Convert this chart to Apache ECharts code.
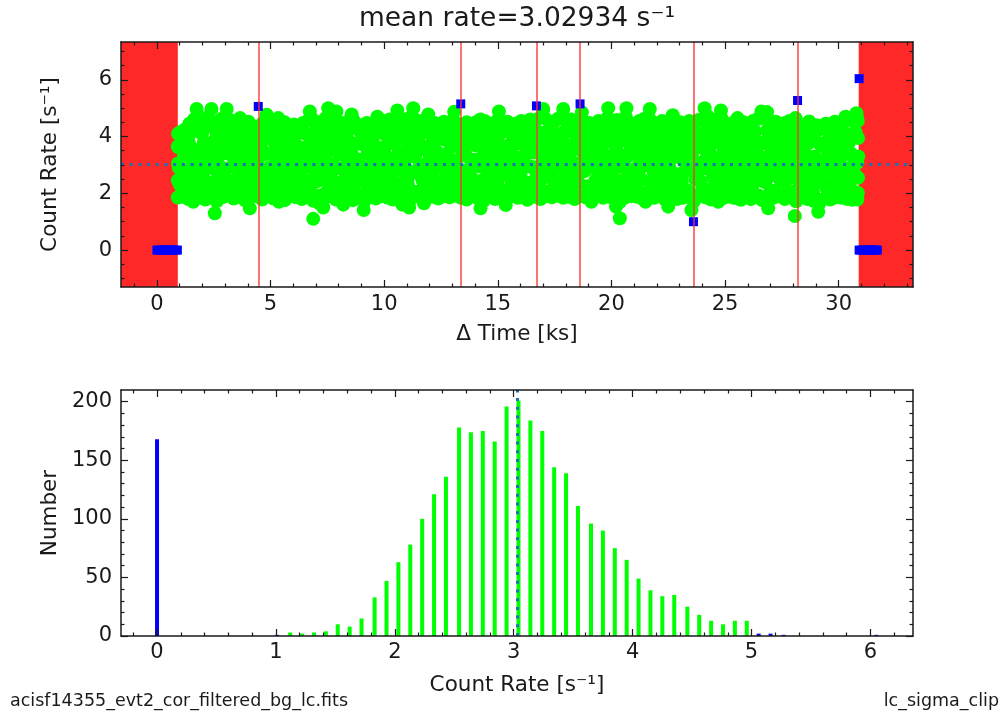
<!DOCTYPE html>
<html>
<head>
<meta charset="utf-8">
<script src="https://cdn.jsdelivr.net/npm/echarts@6/dist/echarts.min.js"></script>
<style>
html,body{margin:0;padding:0;background:#fff;}
#chart{width:1004px;height:715px;}
</style>
</head>
<body>
<div id="chart"></div>
<script>
// ---------------- data ----------------
const meanRate = 3.02934;
const titleText = 'mean rate=3.02934 s\u207B\u00B9';
const fileName = 'acisf14355_evt2_cor_filtered_bg_lc.fits';
const toolName = 'lc_sigma_clip';

// light curve: kept bins [time ks, rate s^-1] (envelope and outliers)
const lcGood = [
[0.92,1.85],[0.92,2.45],[0.93,3.05],[0.92,3.65],[0.93,4.10],
[0.95,3.62],[1.01,2.31],[1.07,4.05],[1.13,2.84],[1.19,1.92],[1.25,3.35],[1.31,2.58],[1.38,3.88],
[1.44,2.12],[1.50,4.32],[1.56,3.04],[1.60,1.70],[1.66,2.71],[1.72,3.52],[1.75,4.97],[1.81,2.42],[1.88,3.21],
[1.94,4.12],[2.00,2.63],[2.06,3.78],[2.12,2.05],[2.18,3.14],[2.24,4.41],[2.30,2.36],[2.36,3.47],[2.40,4.97],[2.45,2.88],[2.50,1.86],[2.55,1.30],[2.61,3.96],[2.67,2.52],[2.73,3.30],[2.79,2.17],[2.85,4.21],[2.91,3.63],
[2.97,2.76],[3.03,3.99],[3.07,4.97],[3.12,2.24],[3.18,3.41],[3.24,1.97],[3.30,2.95],[3.36,4.28],[3.42,2.47],[3.48,3.72],[3.54,2.08],[3.60,3.18],[3.66,4.65],[3.71,2.69],[3.77,3.85],[3.83,2.33],[3.89,3.55],[3.95,4.46],
[4.01,2.90],[4.09,1.47],[4.13,3.27],[4.19,4.09],[4.25,2.58],[4.31,3.66],[4.37,2.15],[4.43,3.02],[4.51,3.95],[4.55,4.33],[4.61,2.41],[4.67,3.49],[4.73,1.88],[4.79,2.83],[4.83,4.77],[4.89,3.93],[4.95,2.27],
[5.01,3.38],[5.07,4.18],[5.13,2.62],[5.19,3.76],[5.25,2.04],[5.30,3.11],[5.34,4.65],[5.37,1.70],[5.43,2.97],[5.49,3.58],[5.55,2.39],[5.61,4.02],[5.67,2.73],[5.73,3.44],[5.79,1.95],[5.85,4.37],[5.91,3.07],[5.97,2.50],
[6.03,3.83],[6.09,2.20],[6.15,3.25],[6.21,4.24],[6.27,2.66],[6.33,3.61],[6.39,2.01],[6.45,2.92],[6.51,4.11],[6.57,2.45],[6.63,3.53],[6.69,3.00],[6.73,4.88],[6.79,2.30],[6.84,3.90],[6.88,1.10],[6.94,2.80],[6.99,3.40],
[7.05,4.28],[7.11,2.55],[7.17,3.70],[7.23,1.93],[7.29,3.15],[7.32,1.50],[7.38,4.05],[7.44,2.70],[7.50,3.47],[7.54,5.00],[7.60,2.12],[7.66,3.02],[7.72,4.38],[7.78,2.43],[7.84,3.80],[7.90,4.88],[7.95,2.88],
[8.01,3.58],[8.07,2.26],[8.13,4.15],[8.20,1.60],[8.25,3.33],[8.31,2.61],[8.37,3.95],[8.43,2.08],[8.49,2.98],[8.57,4.78],[8.61,3.64],[8.67,2.37],[8.73,4.30],[8.79,2.79],[8.85,3.19],[8.91,1.90],[8.97,3.74],
[9.03,2.52],[9.10,1.41],[9.15,4.02],[9.21,2.91],[9.27,3.43],[9.33,2.18],[9.39,3.87],[9.45,2.64],[9.51,4.25],[9.57,3.09],[9.63,2.00],[9.70,4.70],[9.75,3.52],[9.81,2.44],[9.87,3.28],[9.93,4.12],[9.99,2.74],
[10.05,3.66],[10.11,2.10],[10.17,3.01],[10.23,4.40],[10.29,2.56],[10.35,3.79],[10.41,1.96],[10.47,3.22],[10.53,2.85],[10.58,4.92],[10.64,3.48],[10.70,2.29],[10.76,4.07],[10.80,1.60],[10.86,3.14],[10.92,2.67],[10.98,3.92],
[11.04,2.34],[11.10,1.50],[11.16,3.56],[11.22,4.20],[11.28,5.00],[11.33,2.72],[11.39,3.37],[11.45,2.05],[11.51,3.84],[11.57,2.96],[11.63,4.31],[11.69,2.48],[11.75,1.65],[11.81,3.60],[11.87,3.06],[11.94,4.78],[11.99,2.22],
[12.05,3.71],[12.11,2.60],[12.17,4.14],[12.23,2.93],[12.29,1.91],[12.35,3.45],[12.41,2.38],[12.47,4.01],[12.53,3.12],[12.59,2.14],[12.65,3.89],[12.71,2.77],[12.77,4.44],[12.83,3.27],[12.89,2.47],[12.95,3.63],
[13.01,2.02],[13.08,4.87],[13.12,3.05],[13.18,2.66],[13.24,3.94],[13.30,2.29],[13.44,3.50],[13.50,4.23],[13.56,2.55],[13.62,3.31],[13.68,1.94],[13.74,3.77],[13.80,2.84],[13.86,4.06],[13.92,2.41],[13.98,3.18],
[14.04,3.68],[14.10,2.19],[14.16,4.35],[14.24,1.47],[14.28,2.99],[14.34,3.58],[14.40,2.50],[14.46,4.10],[14.52,3.23],[14.58,2.07],[14.64,3.82],[14.70,2.70],[14.76,3.40],[14.82,4.27],[14.88,2.35],[14.94,3.03],
[15.00,3.91],[15.05,4.88],[15.11,2.61],[15.17,3.49],[15.23,2.11],[15.29,3.15],[15.35,1.59],[15.41,4.18],[15.47,2.82],[15.53,3.71],[15.59,2.27],[15.65,3.36],[15.71,4.43],[15.77,2.53],[15.83,3.08],[15.89,1.98],[15.95,3.86],
[16.01,2.74],[16.07,4.04],[16.13,3.26],[16.19,2.40],[16.25,3.61],[16.30,1.77],[16.36,2.95],[16.42,4.22],[16.48,2.16],[16.54,3.44],[16.60,2.86],[16.77,3.75],[16.83,2.32],[16.89,4.13],[16.95,3.10],
[17.00,4.97],[17.06,2.58],[17.12,3.55],[17.18,2.03],[17.24,3.20],[17.30,4.34],[17.36,2.69],[17.42,3.83],[17.48,2.43],[17.54,3.00],[17.60,4.08],[17.66,2.21],[17.72,3.39],[17.78,2.89],[17.84,3.97],[17.88,4.97],[17.94,2.51],
[18.00,3.64],[18.06,2.12],[18.12,3.28],[18.18,4.19],[18.24,2.63],[18.30,3.52],[18.36,1.93],[18.42,3.06],[18.48,4.03],[18.54,2.37],[18.70,4.85],[18.76,3.45],[18.82,2.78],[18.88,3.92],[18.94,2.25],
[19.00,3.13],[19.06,4.29],[19.12,1.70],[19.18,2.97],[19.24,3.70],[19.30,2.46],[19.36,3.34],[19.42,4.11],[19.48,2.09],[19.54,3.58],[19.60,2.83],[19.66,3.98],[19.72,2.54],[19.78,3.22],[19.86,5.00],[19.90,2.31],[19.96,3.81],
[20.02,2.68],[20.08,4.16],[20.14,3.04],[20.20,1.53],[20.26,3.47],[20.32,2.40],[20.37,1.12],[20.43,3.86],[20.49,2.92],[20.55,4.36],[20.61,2.18],[20.66,5.00],[20.72,3.30],[20.78,2.59],[20.84,3.66],[20.90,2.05],[20.96,4.00],
[21.02,2.81],[21.08,3.54],[21.14,2.28],[21.20,4.24],[21.26,3.11],[21.32,2.50],[21.38,3.76],[21.44,2.98],[21.50,1.70],[21.56,4.09],[21.62,3.37],[21.69,4.97],[21.74,2.36],[21.80,3.63],[21.86,2.72],[21.92,4.31],[21.98,1.99],
[22.04,3.19],[22.10,2.62],[22.16,3.88],[22.22,2.14],[22.28,3.42],[22.34,4.14],[22.40,2.85],[22.46,3.05],[22.50,1.53],[22.56,3.69],[22.62,2.44],[22.70,4.75],[22.74,3.27],[22.80,2.01],[22.86,3.95],[22.92,2.67],[22.98,3.51],
[23.04,4.21],[23.10,2.30],[23.16,3.16],[23.22,2.77],[23.28,3.83],[23.34,2.10],[23.40,3.39],[23.46,4.40],[23.52,1.41],[23.70,2.94],[23.76,3.60],[23.82,2.49],[23.88,4.05],[23.94,3.08],
[24.00,2.24],[24.06,3.73],[24.10,5.00],[24.16,2.88],[24.22,3.46],[24.28,1.96],[24.34,4.18],[24.40,3.00],[24.46,2.57],[24.52,3.80],[24.58,2.34],[24.64,4.28],[24.70,1.70],[24.76,3.24],[24.82,4.92],[24.88,2.69],[24.94,3.57],
[25.00,2.13],[25.06,3.91],[25.12,2.80],[25.18,3.35],[25.24,4.10],[25.30,2.42],[25.36,3.65],[25.42,2.06],[25.48,3.13],[25.55,4.65],[25.60,2.60],[25.66,3.50],[25.70,1.77],[25.76,3.99],[25.82,2.91],[25.88,4.34],[25.94,2.27],
[26.00,3.43],[26.06,2.73],[26.12,3.85],[26.18,2.18],[26.24,3.07],[26.30,4.20],[26.36,2.52],[26.42,3.62],[26.48,1.92],[26.54,3.29],[26.60,4.88],[26.66,2.86],[26.72,3.78],[26.78,2.39],[26.85,4.86],[26.90,1.47],[26.96,3.17],
[27.02,4.02],[27.08,2.63],[27.14,3.53],[27.20,2.09],[27.26,3.95],[27.32,2.96],[27.38,4.27],[27.44,2.46],[27.50,3.36],[27.56,2.77],[27.62,3.71],[27.68,2.02],[27.74,3.12],[27.80,4.15],[27.86,2.55],[27.92,3.87],[27.98,2.89],
[28.04,3.44],[28.07,1.20],[28.10,4.65],[28.14,2.62],[28.24,3.15],[28.30,2.34],[28.36,3.59],[28.42,2.71],[28.48,4.12],[28.54,3.02],[28.60,2.16],[28.66,3.76],[28.70,4.53],[28.76,2.48],[28.82,3.27],[28.88,1.98],[28.94,3.90],
[29.00,2.61],[29.06,4.22],[29.10,1.35],[29.16,3.10],[29.22,2.40],[29.28,3.68],[29.34,2.83],[29.40,4.37],[29.46,2.19],[29.52,3.45],[29.58,2.94],[29.64,4.01],[29.70,2.28],[29.76,3.33],[29.82,2.70],[29.88,4.46],[29.94,3.80],
[30.00,2.07],[30.06,3.22],[30.12,4.29],[30.18,2.53],[30.24,3.61],[30.30,4.70],[30.36,2.86],[30.42,3.97],[30.48,2.30],[30.54,3.40],[30.60,1.77],[30.66,4.53],[30.72,2.66],[30.78,4.82],[30.82,3.08],
[30.84,2.00],[30.85,2.55],[30.86,3.30],[30.85,3.95],[30.84,4.55]
];

// light curve: kept bins in between (dense core)
const lcGoodCore = [
[0.96,2.90],[1.04,4.16],[1.11,2.04],[1.19,3.36],[1.26,2.47],[1.34,3.79],[1.41,3.76],[1.49,2.44],[1.56,3.31],[1.64,2.08],[1.71,4.20],[1.79,2.88],[1.86,2.03],[1.94,3.38],
[2.01,4.15],[2.09,2.49],[2.16,3.75],[2.24,2.93],[2.31,3.33],[2.39,2.06],[2.46,3.81],[2.54,2.87],[2.61,4.19],[2.69,2.43],[2.76,4.14],[2.84,2.91],[2.91,2.46],[2.99,3.77],
[3.06,2.09],[3.14,3.39],[3.21,2.42],[3.29,3.80],[3.36,2.94],[3.44,4.17],[3.51,3.34],[3.59,2.02],[3.66,2.89],[3.74,4.21],[3.81,2.07],[3.89,3.30],[3.96,2.48],
[4.04,3.74],[4.11,2.05],[4.19,3.37],[4.26,4.18],[4.34,2.45],[4.41,3.78],[4.49,2.92],[4.56,3.79],[4.64,2.47],[4.71,3.36],[4.79,2.04],[4.86,4.16],[4.94,2.90],
[5.01,4.20],[5.09,2.88],[5.16,2.44],[5.24,3.76],[5.31,2.08],[5.39,3.31],[5.46,2.49],[5.54,3.75],[5.61,2.93],[5.69,4.15],[5.76,3.38],[5.84,2.03],[5.91,3.33],[5.99,2.06],
[6.06,3.81],[6.14,2.87],[6.21,4.19],[6.29,2.43],[6.36,2.91],[6.44,4.14],[6.51,2.09],[6.59,3.39],[6.66,2.46],[6.74,3.77],[6.81,2.02],[6.89,3.34],[6.96,4.17],
[7.04,2.42],[7.11,3.80],[7.19,2.94],[7.26,3.74],[7.34,2.48],[7.41,3.30],[7.49,2.07],[7.56,4.21],[7.64,2.89],[7.71,2.45],[7.79,3.78],[7.86,2.92],[7.94,4.18],
[8.01,3.37],[8.09,2.05],[8.16,4.16],[8.24,2.90],[8.31,2.47],[8.39,3.79],[8.46,2.04],[8.54,3.36],[8.61,3.31],[8.69,2.08],[8.76,3.76],[8.84,2.88],[8.91,4.20],[8.99,2.44],
[9.06,2.93],[9.14,4.15],[9.21,2.03],[9.29,3.38],[9.36,2.49],[9.44,3.75],[9.51,3.81],[9.59,2.43],[9.66,3.33],[9.74,2.06],[9.81,4.19],[9.89,2.87],[9.96,2.09],
[10.04,3.39],[10.11,4.14],[10.19,2.46],[10.26,3.77],[10.34,2.91],[10.41,2.42],[10.49,3.80],[10.56,2.94],[10.64,4.17],[10.71,3.34],[10.79,2.02],[10.86,4.21],[10.94,2.89],
[11.01,2.48],[11.09,3.74],[11.16,2.07],[11.24,3.30],[11.31,3.37],[11.39,2.05],[11.46,3.78],[11.54,2.92],[11.61,4.18],[11.69,2.45],[11.76,2.90],[11.84,4.16],[11.91,2.04],[11.99,3.36],
[12.06,2.47],[12.14,3.79],[12.21,3.76],[12.29,2.44],[12.36,3.31],[12.44,2.08],[12.51,4.20],[12.59,2.88],[12.66,2.03],[12.74,3.38],[12.81,4.15],[12.89,2.49],[12.96,3.75],
[13.04,2.93],[13.11,2.43],[13.19,3.81],[13.26,2.87],[13.34,4.19],[13.41,3.33],[13.49,2.06],[13.56,3.39],[13.64,2.09],[13.71,3.77],[13.79,2.91],[13.86,4.14],[13.94,2.46],
[14.01,4.17],[14.09,2.94],[14.16,2.42],[14.24,3.80],[14.31,2.02],[14.39,3.34],[14.46,2.89],[14.54,4.21],[14.61,2.07],[14.69,3.30],[14.76,2.48],[14.84,3.74],[14.91,3.78],[14.99,2.45],
[15.06,3.37],[15.14,2.05],[15.21,4.18],[15.29,2.92],[15.36,2.04],[15.44,3.36],[15.51,4.16],[15.59,2.47],[15.66,3.79],[15.74,2.90],[15.81,2.44],[15.89,3.76],[15.96,2.88],
[16.04,4.20],[16.11,3.31],[16.19,2.08],[16.26,3.38],[16.34,2.03],[16.41,3.75],[16.49,2.93],[16.56,4.15],[16.64,2.49],[16.71,4.19],[16.79,2.87],[16.86,2.43],[16.94,3.81],
[17.01,2.06],[17.09,3.33],[17.16,2.91],[17.24,4.14],[17.31,2.09],[17.39,3.39],[17.46,2.46],[17.54,3.77],[17.61,3.80],[17.69,2.42],[17.76,3.34],[17.84,2.02],[17.91,4.17],[17.99,2.94],
[18.06,2.07],[18.14,3.30],[18.21,4.21],[18.29,2.48],[18.36,3.74],[18.44,2.89],[18.51,2.45],[18.59,3.78],[18.66,2.92],[18.74,4.18],[18.81,3.37],[18.89,2.05],[18.96,3.36],
[19.04,2.04],[19.11,3.79],[19.19,2.90],[19.26,4.16],[19.34,2.47],[19.41,4.20],[19.49,2.88],[19.56,2.44],[19.64,3.76],[19.71,2.08],[19.79,3.31],[19.86,2.93],[19.94,4.15],
[20.01,2.03],[20.09,3.38],[20.16,2.49],[20.24,3.75],[20.31,3.81],[20.39,2.43],[20.46,3.33],[20.54,2.06],[20.61,4.19],[20.69,2.87],[20.76,2.09],[20.84,3.39],[20.91,4.14],[20.99,2.46],
[21.06,3.77],[21.14,2.91],[21.21,2.42],[21.29,3.80],[21.36,2.94],[21.44,4.17],[21.51,3.34],[21.59,2.02],[21.66,3.30],[21.74,2.07],[21.81,3.74],[21.89,2.89],[21.96,4.21],
[22.04,2.48],[22.11,4.18],[22.19,2.92],[22.26,2.45],[22.34,3.78],[22.41,2.05],[22.49,3.37],[22.56,2.90],[22.64,4.16],[22.71,2.04],[22.79,3.36],[22.86,2.47],[22.94,3.79],
[23.01,3.76],[23.09,2.44],[23.16,3.31],[23.24,2.08],[23.31,4.20],[23.39,2.88],[23.46,2.03],[23.54,3.38],[23.61,4.15],[23.69,2.49],[23.76,3.75],[23.84,2.93],[23.91,2.43],[23.99,3.81],
[24.06,2.87],[24.14,4.19],[24.21,3.33],[24.29,2.06],[24.36,3.39],[24.44,2.09],[24.51,3.77],[24.59,2.91],[24.66,4.14],[24.74,2.46],[24.81,4.17],[24.89,2.94],[24.96,2.42],
[25.04,3.80],[25.11,2.02],[25.19,3.34],[25.26,2.89],[25.34,4.21],[25.41,2.07],[25.49,3.30],[25.56,2.48],[25.64,3.74],[25.71,3.78],[25.79,2.45],[25.86,3.37],[25.94,2.05],
[26.01,4.18],[26.09,2.92],[26.16,2.04],[26.24,3.36],[26.31,4.16],[26.39,2.47],[26.46,3.79],[26.54,2.90],[26.61,2.44],[26.69,3.76],[26.76,2.88],[26.84,4.20],[26.91,3.31],[26.99,2.08],
[27.06,3.38],[27.14,2.03],[27.21,3.75],[27.29,2.93],[27.36,4.15],[27.44,2.49],[27.51,4.19],[27.59,2.87],[27.66,2.43],[27.74,3.81],[27.81,2.06],[27.89,3.33],[27.96,2.91],
[28.04,4.14],[28.11,2.09],[28.19,3.39],[28.26,2.46],[28.34,3.77],[28.41,3.80],[28.49,2.42],[28.56,3.34],[28.64,2.02],[28.71,4.17],[28.79,2.94],[28.86,2.07],[28.94,3.30],
[29.01,4.21],[29.09,2.48],[29.16,3.74],[29.24,2.89],[29.31,2.45],[29.39,3.78],[29.46,2.92],[29.54,4.18],[29.61,3.37],[29.69,2.05],[29.76,3.36],[29.84,2.04],[29.91,3.79],[29.99,2.90],
[30.06,4.16],[30.14,2.47],[30.21,4.20],[30.29,2.88],[30.36,2.44],[30.44,3.76],[30.51,2.08],[30.59,3.31],[30.66,2.93],[30.74,4.15],[30.81,2.03]
];

// light curve: kept bins on the upper and lower fringe of the band
const lcGoodUpper = [
[1.23,4.25],[1.43,4.45],[1.63,4.60],[1.83,4.40],
[2.03,4.55],[2.23,4.68],[2.43,4.38],[2.63,4.50],[2.83,4.62],
[3.03,4.42],[3.23,4.58],[3.43,4.33],[3.63,4.48],[3.83,4.40],
[4.03,4.52],[4.23,4.36],[4.43,4.30],[4.63,4.45],[4.83,4.56],
[5.03,4.60],[5.23,4.45],[5.43,4.38],[5.63,4.50],[5.83,4.32],
[6.03,4.42],[6.23,4.30],[6.43,4.48],[6.63,4.55],[6.83,4.62],
[7.03,4.40],[7.23,4.52],[7.43,4.65],[7.63,4.58],[7.83,4.70],
[8.03,4.50],[8.23,4.36],[8.43,4.55],[8.63,4.60],[8.83,4.42],
[9.03,4.33],[9.23,4.48],[9.43,4.40],[9.63,4.52],[9.83,4.58],
[10.03,4.46],[10.23,4.60],[10.43,4.55],[10.63,4.68],[10.83,4.40],
[11.03,4.62],[11.23,4.72],[11.43,4.45],[11.63,4.55],[11.83,4.50],
[12.03,4.35],[12.23,4.48],[12.43,4.30],[12.63,4.52],[12.83,4.40],
[13.03,4.58],[13.23,4.45],[13.43,4.38],[13.63,4.50],[13.83,4.42],
[14.03,4.50],[14.23,4.60],[14.43,4.55],[14.63,4.40],[14.83,4.48],
[15.03,4.62],[15.23,4.45],[15.43,4.52],[15.63,4.38],[15.83,4.46],
[16.03,4.55],[16.23,4.40],[16.43,4.60],[16.63,4.50],[16.83,4.65],
[17.03,4.70],[17.23,4.55],[17.43,4.48],[17.63,4.62],[17.83,4.68],
[18.03,4.52],[18.23,4.60],[18.43,4.45],[18.63,4.58],[18.83,4.50],
[19.03,4.48],[19.23,4.40],[19.43,4.55],[19.63,4.50],[19.83,4.66],
[20.03,4.45],[20.23,4.58],[20.43,4.52],[20.63,4.70],[20.83,4.48],
[21.03,4.40],[21.23,4.55],[21.43,4.62],[21.63,4.68],[21.83,4.50],
[22.03,4.42],[22.23,4.55],[22.43,4.48],[22.63,4.60],[22.83,4.38],
[23.03,4.50],[23.23,4.40],[23.43,4.55],[23.63,4.45],[23.83,4.58],
[24.03,4.62],[24.23,4.72],[24.43,4.50],[24.63,4.60],[24.83,4.66],
[25.03,4.48],[25.23,4.40],[25.43,4.52],[25.63,4.45],[25.83,4.50],
[26.03,4.42],[26.23,4.55],[26.43,4.62],[26.63,4.70],[26.83,4.58],
[27.03,4.45],[27.23,4.52],[27.43,4.40],[27.63,4.48],[27.83,4.55],
[28.03,4.38],[28.23,4.45],[28.43,4.35],[28.63,4.42],[28.83,4.32],
[29.03,4.40],[29.23,4.30],[29.43,4.45],[29.63,4.38],[29.83,4.52],
[30.03,4.48],[30.23,4.55],[30.43,4.62],[30.63,4.66],[30.80,4.70]
];
const lcGoodLower = [
[1.13,1.88],[1.38,1.80],[1.63,1.92],[1.88,1.85],
[2.13,1.78],[2.38,1.90],[2.63,1.72],[2.88,1.86],
[3.13,1.92],[3.38,1.82],[3.63,1.88],[3.88,1.75],
[4.13,1.85],[4.38,1.90],[4.63,1.78],[4.88,1.92],
[5.13,1.82],[5.38,1.88],[5.63,1.76],[5.88,1.90],
[6.13,1.86],[6.38,1.80],[6.63,1.92],[6.88,1.74],
[7.13,1.66],[7.38,1.84],[7.63,1.90],[7.88,1.78],
[8.13,1.80],[8.38,1.92],[8.63,1.76],[8.88,1.86],
[9.13,1.72],[9.38,1.88],[9.63,1.82],[9.88,1.90],
[10.13,1.85],[10.38,1.78],[10.63,1.92],[10.88,1.80],
[11.13,1.76],[11.38,1.90],[11.63,1.84],[11.88,1.92],
[12.13,1.88],[12.38,1.82],[12.63,1.90],[12.88,1.86],
[13.13,1.92],[13.38,1.84],[13.63,1.78],[13.88,1.90],
[14.13,1.82],[14.38,1.74],[14.63,1.88],[14.88,1.80],
[15.13,1.86],[15.38,1.78],[15.63,1.90],[15.88,1.84],
[16.13,1.92],[16.38,1.84],[16.63,1.88],[16.88,1.80],
[17.13,1.90],[17.38,1.86],[17.63,1.92],[17.88,1.84],
[18.13,1.88],[18.38,1.80],[18.63,1.90],[18.88,1.85],
[19.13,1.78],[19.38,1.92],[19.63,1.84],[19.88,1.88],
[20.13,1.82],[20.38,1.70],[20.63,1.86],[20.88,1.90],
[21.13,1.88],[21.38,1.80],[21.63,1.92],[21.88,1.84],
[22.13,1.90],[22.38,1.76],[22.63,1.86],[22.88,1.80],
[23.13,1.84],[23.38,1.88],[23.63,1.72],[23.88,1.90],
[24.13,1.86],[24.38,1.78],[24.63,1.90],[24.88,1.82],
[25.13,1.88],[25.38,1.84],[25.63,1.80],[25.88,1.92],
[26.13,1.80],[26.38,1.86],[26.63,1.76],[26.88,1.70],
[27.13,1.84],[27.38,1.90],[27.63,1.80],[27.88,1.86],
[28.13,1.72],[28.38,1.86],[28.63,1.80],[28.88,1.74],
[29.13,1.62],[29.38,1.82],[29.63,1.78],[29.88,1.86],
[30.13,1.84],[30.38,1.80],[30.63,1.86],[30.82,1.78]
];

// light curve: clipped bins
const clipTimes = [4.46, 13.37, 16.70, 18.62, 23.61, 28.19, 30.90];
const clipRates = [5.06, 5.15, 5.08, 5.15, 1.00, 5.27, 6.04];
const zeroTimes = [0.00,0.10,0.20,0.30,0.40,0.50,0.60,0.70,0.80,0.90,30.90,31.00,31.10,31.20,31.30,31.40,31.50,31.60,31.70];
const flagLines = [4.46, 13.37, 16.70, 18.62, 23.61, 28.19];
const badIntervals = [[-1.58, 0.92], [30.88, 33.27]];

// histogram of rates
const histCenters = [1.12,1.22,1.32,1.42,1.52,1.62,1.72,1.83,1.93,2.03,2.13,2.23,2.33,2.43,2.54,2.64,2.74,2.84,2.94,3.04,3.14,3.24,3.34,3.44,3.54,3.65,3.75,3.85,3.95,4.05,4.15,4.25,4.35,4.46,4.56,4.66,4.76,4.86,4.96];
const histCounts  = [3,2,3,4,10,8,15,33,47,63,78,100,121,136,178,174,175,166,196,201,184,175,144,139,111,96,90,75,65,49,39,34,35,25,18,13,10,13,13];
const clipHistCenters = [0, 1.01, 5.06, 5.16, 5.27, 6.05];
const clipHistCounts  = [168, 1, 2, 2, 1, 1];

// axes
const lcXRange = [-1.58, 33.27];
const lcYRange = [-1.3, 7.33];
const lcXTicks = [0,5,10,15,20,25,30];
const lcXMinor = [-1,1,2,3,4,6,7,8,9,11,12,13,14,16,17,18,19,21,22,23,24,26,27,28,29,31,32,33];
const lcYTicks = [0,2,4,6];
const lcYMinor = [-1,-0.5,0.5,1,1.5,2.5,3,3.5,4.5,5,5.5,6.5,7];
const hXRange = [-0.303, 6.358];
const hYRange = [0, 210];
const hXTicks = [0,1,2,3,4,5,6];
const hXMinor = [-0.2,0.2,0.4,0.6,0.8,1.2,1.4,1.6,1.8,2.2,2.4,2.6,2.8,3.2,3.4,3.6,3.8,4.2,4.4,4.6,4.8,5.2,5.4,5.6,5.8,6.2];
const hYTicks = [0,50,100,150,200];
const hYMinor = [10,20,30,40,60,70,80,90,110,120,130,140,160,170,180,190];

// ---------------- chart ----------------
const FONT = 'DejaVu Sans';
const INK = '#1a1a1a';
const GREEN = '#00ff00';
const BLUE = '#0000ff';
const MEANC = '#1f6fb4';

function axesFor(dim, grid, range, major, minor, label, name, nameGap) {
  const isX = dim === 'x';
  const pos = isX ? ['bottom', 'top'] : ['left', 'right'];
  const base = {
    type: 'value', gridIndex: grid, min: range[0], max: range[1], z: 10,
    splitLine: { show: false }, silent: true
  };
  const out = [];
  [0, 1].forEach(side => {
    [true, false].forEach(isMajor => {
      const a = Object.assign({}, base, {
        position: pos[side],
        axisLine: { show: isMajor, onZero: false, lineStyle: { color: INK, width: 1.5 } },
        axisTick: { show: true, inside: true, length: isMajor ? 7 : 3.5,
          customValues: isMajor ? major : minor, lineStyle: { color: INK, width: 1.2 } },
        axisLabel: { show: false }
      });
      if (side === 0 && isMajor) {
        a.axisLabel = Object.assign({ show: true, customValues: major, fontFamily: FONT,
          fontSize: 21, color: INK }, label);
        a.name = name;
        a.nameLocation = 'middle';
        a.nameGap = nameGap;
        a.nameTextStyle = { fontFamily: FONT, fontSize: 21.5, color: INK };
        if (!isX) a.nameRotate = 90;
      }
      out.push(a);
    });
  });
  return out;
}

const xAxes = [].concat(
  axesFor('x', 0, lcXRange, lcXTicks, lcXMinor, { margin: 7.5 }, '\u0394 Time [ks]', 36),
  axesFor('x', 1, hXRange, hXTicks, hXMinor, { margin: 6.5 }, 'Count Rate [s\u207B\u00B9]', 38)
);
const yAxes = [].concat(
  axesFor('y', 0, lcYRange, lcYTicks, lcYMinor, { margin: 9 }, 'Count Rate [s\u207B\u00B9]', 60),
  axesFor('y', 1, hYRange, hYTicks, hYMinor, { margin: 9 }, 'Number', 60)
);

const histData = histCenters.map((c, i) => ({ value: [c, histCounts[i]], itemStyle: { color: GREEN } }))
  .concat(clipHistCenters.map((c, i) => ({ value: [c, clipHistCounts[i]], itemStyle: { color: BLUE } })));

const option = {
  animation: false,
  backgroundColor: '#fff',
  grid: [
    { left: 121, top: 42, width: 792, height: 245, outerBoundsMode: 'none', containLabel: false },
    { left: 121, top: 390, width: 792, height: 246, outerBoundsMode: 'none', containLabel: false }
  ],
  xAxis: xAxes,
  yAxis: yAxes,
  graphic: [
    { type: 'text', silent: true, style: { text: titleText, x: 517, y: 19, font: '26.5px "DejaVu Sans"', fill: INK, textAlign: 'center', textVerticalAlign: 'middle' } },
    { type: 'text', silent: true, style: { text: fileName, x: 10, y: 701, font: '17.5px "DejaVu Sans"', fill: INK, textAlign: 'left', textVerticalAlign: 'middle' } },
    { type: 'text', silent: true, style: { text: toolName, x: 999, y: 701, font: '17.5px "DejaVu Sans"', fill: INK, textAlign: 'right', textVerticalAlign: 'middle' } }
  ],
  series: [
    { // bad time intervals
      type: 'scatter', xAxisIndex: 0, yAxisIndex: 0, data: [], z: 1, silent: true,
      markArea: { silent: true, itemStyle: { color: '#ff2828', opacity: 1 },
        data: badIntervals.map(b => [{ xAxis: b[0] }, { xAxis: b[1] }]) }
    },
    { // flagged bins
      type: 'scatter', xAxisIndex: 0, yAxisIndex: 0, data: [], z: 2, silent: true,
      markLine: { silent: true, symbol: 'none', label: { show: false },
        lineStyle: { color: '#ff3030', width: 1.5, type: 'solid', opacity: 0.9 },
        data: flagLines.map(t => ({ xAxis: t })) }
    },
    {
      type: 'scatter', xAxisIndex: 0, yAxisIndex: 0, z: 3, silent: true,
      symbol: 'circle', symbolSize: 14, itemStyle: { color: GREEN, opacity: 1 },
      data: lcGood.concat(lcGoodCore, lcGoodUpper, lcGoodLower)
    },
    {
      type: 'scatter', xAxisIndex: 0, yAxisIndex: 0, z: 4, silent: true,
      symbol: 'rect', symbolSize: 9, itemStyle: { color: BLUE, opacity: 1 },
      data: clipTimes.map((t, i) => [t, clipRates[i]]).concat(zeroTimes.map(t => [t, 0]))
    },
    { // mean line
      type: 'scatter', xAxisIndex: 0, yAxisIndex: 0, data: [], z: 5, silent: true,
      markLine: { silent: true, symbol: 'none', label: { show: false },
        lineStyle: { color: MEANC, width: 3, type: [3, 5.7], cap: 'butt' },
        data: [{ yAxis: meanRate }] }
    },
    {
      type: 'bar', xAxisIndex: 4, yAxisIndex: 4, z: 3, silent: true,
      barWidth: 4, data: histData
    },
    {
      type: 'scatter', xAxisIndex: 4, yAxisIndex: 4, data: [], z: 5, silent: true,
      markLine: { silent: true, symbol: 'none', label: { show: false },
        lineStyle: { color: MEANC, width: 3, type: [3, 5.7], cap: 'butt' },
        data: [{ xAxis: meanRate }] }
    }
  ]
};

const chart = echarts.init(document.getElementById('chart'), null, { renderer: 'canvas' });
chart.setOption(option);
</script>
</body>
</html>
